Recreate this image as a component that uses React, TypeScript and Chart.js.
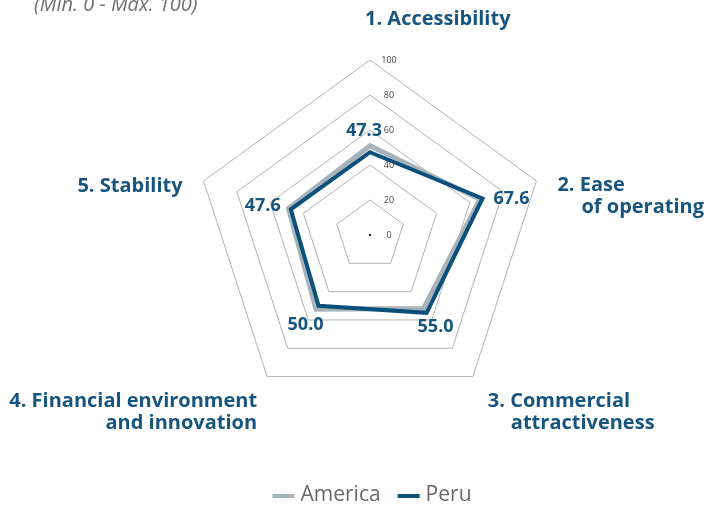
import React, { useEffect, useRef } from "react";
import { Chart, registerables } from "chart.js";

Chart.register(...registerables);

const categories: string[][] = [
  ["1. Accessibility"],
  ["2. Ease", "of operating"],
  ["3. Commercial", "attractiveness"],
  ["4. Financial environment", "and innovation"],
  ["5. Stability"],
];
const americaValues = [51.0, 66.0, 52.0, 52.5, 49.0];
const peruValues = [47.3, 67.6, 55.0, 50.0, 47.6];
const seriesNames = ["America", "Peru"];
const tickValues = [0, 20, 40, 60, 80, 100];
const subtitle = "(Min. 0 - Max. 100)";

const BLUE = "#0b4f7b";
const GREY = "#a6b3ba";
const LABEL_BLUE = "#17557f";

// label layout offsets relative to the axis end (value 100): [dx, dy] per line, and alignment
const pointLabelLayout: { align: CanvasTextAlign; lines: [number, number][] }[] = [
  { align: "left", lines: [[-5, -41]] },
  { align: "left", lines: [[21, 4], [45, 26]] },
  { align: "left", lines: [[15, 25], [38, 47]] },
  { align: "right", lines: [[-10, 25], [-10, 47]] },
  { align: "right", lines: [[-21, 5]] },
];
// value label offsets relative to Peru point
const valueLabelOffsets: [number, number][] = [
  [-6, -21],
  [29, 0],
  [9, 14],
  [-13, 19],
  [-28, -3],
];

const overlayPlugin = {
  id: "overlay",
  afterDraw(chart: any) {
    const ctx: CanvasRenderingContext2D = chart.ctx;
    const scale = chart.scales.r;
    ctx.save();

    // subtitle
    ctx.font = "italic 20px 'Open Sans'";
    ctx.fillStyle = "#707070";
    ctx.textAlign = "left";
    ctx.textBaseline = "alphabetic";
    ctx.fillText(subtitle, 34, 11);

    // tick labels
    ctx.font = "9px 'Open Sans'";
    ctx.fillStyle = "#444";
    ctx.textAlign = "center";
    ctx.textBaseline = "middle";
    tickValues.forEach((v) => {
      const d = scale.getDistanceFromCenterForValue(v);
      ctx.fillText(String(v), scale.xCenter + 19, scale.yCenter - d);
    });
    // center dot
    ctx.fillStyle = "#222";
    ctx.fillRect(scale.xCenter - 1, scale.yCenter - 1, 2, 2);

    // point labels
    ctx.font = "bold 20px 'Open Sans'";
    ctx.fillStyle = LABEL_BLUE;
    ctx.textBaseline = "middle";
    categories.forEach((lines, i) => {
      const p = scale.getPointPositionForValue(i, 100);
      const lay = pointLabelLayout[i];
      ctx.textAlign = lay.align;
      lines.forEach((t, j) => {
        const [dx, dy] = lay.lines[j];
        ctx.fillText(t, p.x + dx, p.y + dy);
      });
    });

    // value labels (Peru)
    ctx.font = "bold 18px 'Open Sans'";
    ctx.textAlign = "center";
    peruValues.forEach((v, i) => {
      const p = scale.getPointPositionForValue(i, v);
      const [dx, dy] = valueLabelOffsets[i];
      ctx.fillText(v.toFixed(1), p.x + dx, p.y + dy);
    });

    // legend
    const ds = chart.data.datasets;
    ctx.font = "21px 'Open Sans'";
    ctx.textAlign = "left";
    const boxW = 22;
    const gap = 6;
    const itemGap = 17;
    const widths = ds.map((d: any) => boxW + gap + ctx.measureText(d.label).width);
    const total = widths.reduce((a: number, b: number) => a + b, 0) + itemGap * (ds.length - 1);
    let x = scale.xCenter + 2 - total / 2;
    const y = 496;
    ds.forEach((d: any, i: number) => {
      ctx.fillStyle = d.borderColor;
      ctx.fillRect(x, y - 2, boxW, 4);
      ctx.fillStyle = "#6a6a6a";
      ctx.fillText(d.label, x + boxW + gap, y - 1);
      x += widths[i] + itemGap;
    });

    ctx.restore();
  },
};

export default function App() {
  const ref = useRef<HTMLCanvasElement>(null);
  useEffect(() => {
    document.body.style.margin = "0";
    const chart = new Chart(ref.current!, {
      type: "radar",
      data: {
        labels: categories.map((c) => c.join(" ")),
        datasets: [
          {
            label: seriesNames[0],
            data: americaValues,
            borderColor: GREY,
            backgroundColor: "transparent",
            borderWidth: 5,
            pointRadius: 0,
            fill: false,
            order: 1,
          },
          {
            label: seriesNames[1],
            data: peruValues,
            borderColor: BLUE,
            backgroundColor: "transparent",
            borderWidth: 4,
            pointRadius: 0,
            fill: false,
            order: 0,
          },
        ],
      },
      options: {
        responsive: false,
        animation: false,
        devicePixelRatio: 1,
        layout: { padding: { left: 195, right: 164, top: 60, bottom: 96 } },
        plugins: { legend: { display: false }, tooltip: { enabled: false } },
        elements: { line: { tension: 0, borderJoinStyle: "miter" } },
        scales: {
          r: {
            min: 0,
            max: 100,
            ticks: { stepSize: 20, display: false },
            grid: { color: "#b3b3b3", lineWidth: 1 },
            angleLines: { display: false },
            pointLabels: { display: false },
          },
        },
      },
      plugins: [overlayPlugin],
    });
    return () => chart.destroy();
  }, []);
  return (
    <div style={{ width: 709, height: 506 }}>
      <canvas ref={ref} width={709} height={506} style={{ display: "block" }} />
    </div>
  );
}
